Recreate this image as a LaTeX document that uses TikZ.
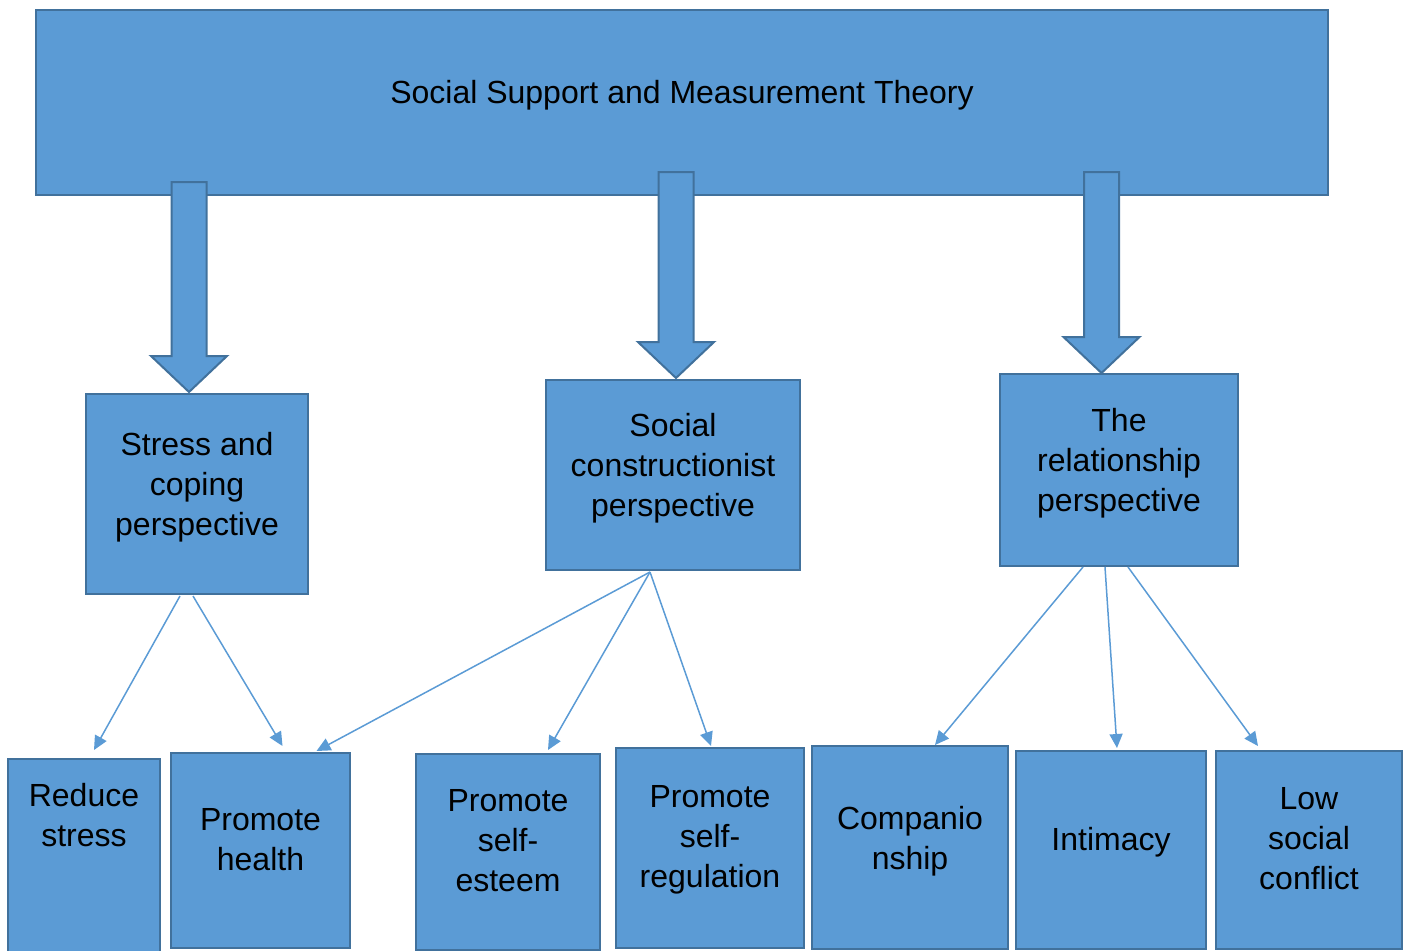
\documentclass[tikz,border=0pt]{standalone}
\usepackage{fontspec}
\setmainfont{Liberation Sans}
\usetikzlibrary{positioning,calc,arrows.meta}

\definecolor{boxblue}{HTML}{5B9BD5}
\definecolor{boxedge}{HTML}{41719C}

% thick block arrow pointing down: centre x, top y, tip y
\newcommand{\blockdown}[3]{%
  \draw[boxedge,fill=boxblue,line width=1pt,line join=miter]
    (#1-17.5,#2) -- (#1+17.5,#2) -- (#1+17.5,#3-36) -- (#1+38,#3-36)
    -- (#1,#3) -- (#1-38,#3-36) -- (#1-17.5,#3-36) -- cycle;}

\begin{document}
\begin{tikzpicture}[x=0.5pt,y=-0.5pt,
    box/.style={draw=boxedge,fill=boxblue,line width=1pt,inner sep=0pt,outer sep=0pt,anchor=north west},
    txt/.style={font=\fontsize{16}{20}\selectfont,align=center,inner sep=0pt},
    link/.style={boxblue,line width=0.75pt,-{Triangle[length=7pt,width=6.5pt]}}]
    \useasboundingbox (0,0) rectangle (1410,950);

    % top box
    \node[box,minimum width=646pt,minimum height=92.5pt] (theory) at (36,10) {};
    \node[txt,below=34.75pt of theory.north] {Social Support and Measurement Theory};

    % three perspectives
    \node[box,minimum width=111pt,minimum height=100pt] (stress) at (86,394) {};
    \node[box,minimum width=127pt,minimum height=95pt] (social) at (546,380) {};
    \node[box,minimum width=119pt,minimum height=96pt] (relation) at (1000,374) {};
    \node[txt,below=18.75pt of stress.north] {Stress and\\coping\\perspective};
    \node[txt,below=16.25pt of social.north] {Social\\constructionist\\perspective};
    \node[txt,below=16.75pt of relation.north] {The\\relationship\\perspective};

    % outcomes
    \node[box,minimum width=76pt,minimum height=96.5pt] (reduce) at (8,759) {};
    \node[box,minimum width=89.5pt,minimum height=97.5pt] (health) at (171,753) {};
    \node[box,minimum width=92pt,minimum height=98pt] (esteem) at (416,754) {};
    \node[box,minimum width=94pt,minimum height=100pt] (regulation) at (616,748) {};
    \node[box,minimum width=98pt,minimum height=101.5pt] (companion) at (812,746) {};
    \node[box,minimum width=95pt,minimum height=99pt] (intimacy) at (1016,751) {};
    \node[box,minimum width=93pt,minimum height=99pt] (conflict) at (1216,751) {};
    \node[txt,below=12pt of reduce.north] {Reduce\\stress};
    \node[txt,below=27.5pt of health.north] {Promote\\health};
    \node[txt,below=17.75pt of esteem.north] {Promote\\self-\\esteem};
    \node[txt,below=18.75pt of regulation.north] {Promote\\self-\\regulation};
    \node[txt,below=29.75pt of companion.north] {Companio\\nship};
    \node[txt,below=37.75pt of intimacy.north] {Intimacy};
    \node[txt,below=18.25pt of conflict.north] {Low\\social\\conflict};

    % block arrows
    \blockdown{189}{182}{392}
    \blockdown{676}{172}{378}
    \blockdown{1101.5}{172}{373}

    % thin arrows
    \draw[link] ($(stress.south)+(-17,2)$) -- ($(reduce.north)+(10,-9)$);
    \draw[link] ($(stress.south)+(-4,2)$) -- ($(health.north)+(22,-7)$);
    \draw[link] ($(social.south)+(-23,2)$) -- ($(health.north)+(56,-2)$);
    \draw[link] ($(social.south)+(-23,2)$) -- ($(esteem.north)+(40,-4)$);
    \draw[link] ($(social.south)+(-23,2)$) -- ($(regulation.north)+(1,-2)$);
    \draw[link] ($(relation.south)+(-36,1)$) -- ($(companion.north)+(25,-1)$);
    \draw[link] ($(relation.south)+(-14,1)$) -- ($(intimacy.north)+(6,-3)$);
    \draw[link] ($(relation.south)+(9,1)$) -- ($(conflict.north)+(-51,-5)$);
\end{tikzpicture}
\end{document}
